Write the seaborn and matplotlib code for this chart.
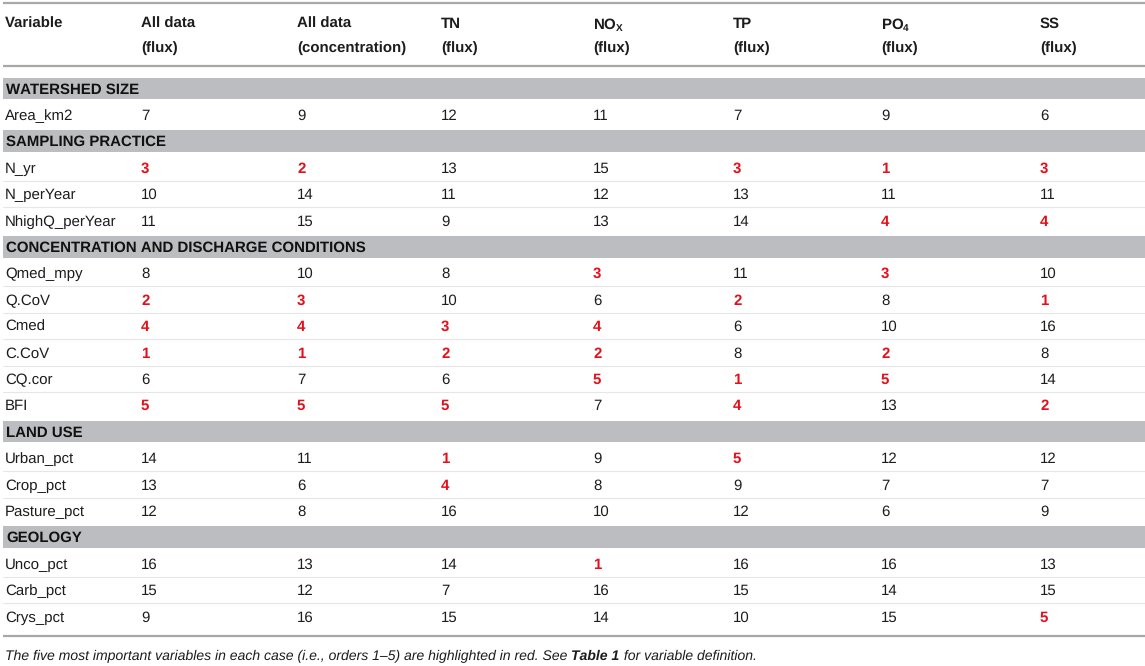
import matplotlib
matplotlib.use("Agg")
import matplotlib.pyplot as plt
import seaborn as sns

# Table content
columns = ["All data\n(flux)", "All data\n(concentration)", "TN\n(flux)",
           "NO$_\\mathregular{X}$\n(flux)", "TP\n(flux)", "PO$_\\mathregular{4}$\n(flux)", "SS\n(flux)"]

groups = ["WATERSHED SIZE", "SAMPLING PRACTICE", "CONCENTRATION AND DISCHARGE CONDITIONS",
          "LAND USE", "GEOLOGY"]

watershed_vars = ["Area_km2"]
watershed_vals = [[7, 9, 12, 11, 7, 9, 6]]

sampling_vars = ["N_yr", "N_perYear", "NhighQ_perYear"]
sampling_vals = [[3, 2, 13, 15, 3, 1, 3],
                 [10, 14, 11, 12, 13, 11, 11],
                 [11, 15, 9, 13, 14, 4, 4]]

conc_vars = ["Qmed_mpy", "Q.CoV", "Cmed", "C.CoV", "CQ.cor", "BFI"]
conc_vals = [[8, 10, 8, 3, 11, 3, 10],
             [2, 3, 10, 6, 2, 8, 1],
             [4, 4, 3, 4, 6, 10, 16],
             [1, 1, 2, 2, 8, 2, 8],
             [6, 7, 6, 5, 1, 5, 14],
             [5, 5, 5, 7, 4, 13, 2]]

landuse_vars = ["Urban_pct", "Crop_pct", "Pasture_pct"]
landuse_vals = [[14, 11, 1, 9, 5, 12, 12],
                [13, 6, 4, 8, 9, 7, 7],
                [12, 8, 16, 10, 12, 6, 9]]

geology_vars = ["Unco_pct", "Carb_pct", "Crys_pct"]
geology_vals = [[16, 13, 14, 1, 16, 16, 13],
                [15, 12, 7, 16, 15, 14, 15],
                [9, 16, 15, 14, 10, 15, 5]]

footnote = ("The five most important variables in each case (i.e., orders 1\u20135) "
            "are highlighted in red. See ", "Table 1", " for variable definition.")

sections = list(zip(groups, [watershed_vars, sampling_vars, conc_vars, landuse_vars, geology_vars],
                    [watershed_vals, sampling_vals, conc_vals, landuse_vals, geology_vals]))

sns.set_theme(style="white")
plt.rcParams['font.family'] = ['Liberation Sans', 'DejaVu Sans']
plt.rcParams['text.hinting'] = 'no_hinting'
plt.rcParams['text.hinting_factor'] = 1

W, H = 1145, 666
fig = plt.figure(figsize=(W / 100, H / 100), dpi=100)
ax = fig.add_axes([0, 0, 1, 1])
ax.set_xlim(0, W)
ax.set_ylim(H, 0)
ax.axis("off")

col_x = [5, 141, 297, 441, 593, 733, 881, 1040]
band_color = "#bcbdc0"
rule_color = "#a8a8a8"
red = "#e3101b"
ink = "#1c1c1c"
fs = 10.6
cap = 5.2  # half cap height in px, to put the baseline under the row centre

# header
ax.plot([3, W], [3, 3], color=rule_color, lw=1.6, solid_capstyle="butt")
ax.plot([3, W], [65.5, 65.5], color=rule_color, lw=1.6, solid_capstyle="butt")
ax.text(col_x[0], 23 + cap, "Variable", fontsize=fs, fontweight="bold", va="baseline", ha="left", color=ink)
for x, c in zip(col_x[1:], columns):
    l1, l2 = c.split("\n")
    ax.text(x, 23 + cap, l1, fontsize=fs, fontweight="bold", va="baseline", ha="left", color=ink)
    ax.text(x, 47 + cap, l2, fontsize=fs, fontweight="bold", va="baseline", ha="left", color=ink)

# body
y0, pitch = 88.3, 26.4
row = 0
for name, vars_, vals in sections:
    yc = y0 + row * pitch
    ax.axhspan(yc - 10.8, yc + 10.8, xmin=3 / W, xmax=1, color=band_color, lw=0)
    ax.text(col_x[0] + 1, yc + cap, name, fontsize=fs, fontweight="bold", va="baseline",
            ha="left", color="#111111")
    row += 1
    for k, (v, rowvals) in enumerate(zip(vars_, vals)):
        yc = y0 + row * pitch
        if k > 0:
            ax.plot([3, W], [yc - pitch / 2, yc - pitch / 2], color="#e6e6e6", lw=0.8)
        ax.text(col_x[0], yc + cap, v, fontsize=fs, va="baseline", ha="left", color=ink)
        for x, val in zip(col_x[1:], rowvals):
            top = val <= 5
            ax.text(x, yc + cap, str(val), fontsize=fs, va="baseline", ha="left",
                    color=red if top else ink, fontweight="bold" if top else "normal")
        row += 1

ybot = y0 + (row - 1) * pitch + 20
ax.plot([3, W], [ybot, ybot], color=rule_color, lw=1.6, solid_capstyle="butt")

# footnote with bold "Table 1"
fig.canvas.draw()
r = fig.canvas.get_renderer()
x = 5
for part, bold in zip(footnote, [False, True, False]):
    t = ax.text(x, 655 + 5, part, fontsize=10, style="italic", va="baseline", ha="left",
                fontweight="bold" if bold else "normal", color=ink)
    bb = t.get_window_extent(renderer=r)
    x += bb.width

fig.savefig("out.png", dpi=100)
